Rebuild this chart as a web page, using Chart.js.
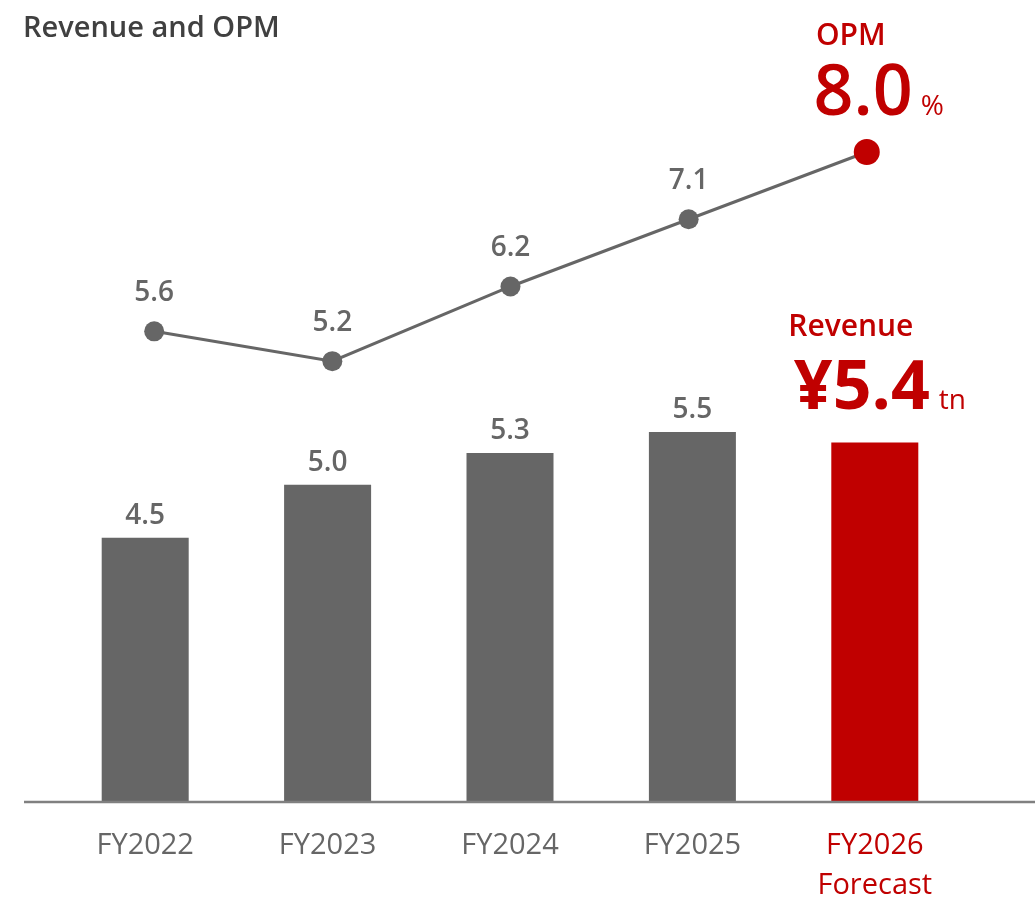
<!DOCTYPE html>
<html>
<head>
<meta charset="utf-8">
<title>Revenue and OPM</title>
<script src="https://cdn.jsdelivr.net/npm/chart.js@4"></script>
<style>
  html, body { margin: 0; padding: 0; background: #fff; }
  #wrap { position: relative; width: 1035px; height: 899px; }
  h1 { position: absolute; left: 23px; top: 6px; margin: 0; font: 600 29px "Open Sans", sans-serif; color: #404040; }
  canvas { position: absolute; left: 0; top: 0; }
</style>
</head>
<body>
<div id="wrap">
  <canvas id="chart" width="1035" height="899"></canvas>
  <h1>Revenue and OPM</h1>
</div>
<script>
// data
const categories = ['FY2022', 'FY2023', 'FY2024', 'FY2025', 'FY2026'];
const revenue = [4.5, 5.0, 5.3, 5.5, 5.4];   // ¥ tn
const opm = [5.6, 5.2, 6.2, 7.1, 8.0];       // %
const tickLabels = [['FY2022'], ['FY2023'], ['FY2024'], ['FY2025'], ['FY2026', 'Forecast']];

const GRAY = '#666666';
const RED = '#C00000';
const FONT = '"Open Sans", sans-serif';
const last = categories.length - 1;

const barColors = categories.map((c, i) => i === last ? RED : GRAY);
const pointColors = categories.map((c, i) => i === last ? RED : GRAY);
const pointSizes = categories.map((c, i) => i === last ? 13 : 10);

// labels, baseline and x ticks
const decorate = {
  id: 'decorate',
  afterDatasetsDraw(chart) {
    const ctx = chart.ctx;
    const bars = chart.getDatasetMeta(1).data;
    const pts = chart.getDatasetMeta(0).data;
    const y = chart.scales.y;

    ctx.save();
    // baseline
    const base = y.getPixelForValue(y.min);
    ctx.strokeStyle = '#808080';
    ctx.lineWidth = 2.5;
    ctx.beginPath();
    ctx.moveTo(24, base);
    ctx.lineTo(1035, base);
    ctx.stroke();

    // value labels
    ctx.fillStyle = GRAY;
    ctx.font = '600 28px ' + FONT;
    ctx.textAlign = 'center';
    ctx.textBaseline = 'middle';
    for (let i = 0; i < last; i++) {
      ctx.fillText(revenue[i].toFixed(1), bars[i].x, bars[i].y - 22);
      ctx.fillText(opm[i].toFixed(1), pts[i].x, pts[i].y - 38);
    }

    // forecast callouts
    const b = bars[last], p = pts[last];
    ctx.fillStyle = RED;
    ctx.textBaseline = 'alphabetic';
    ctx.font = '600 30px ' + FONT;
    ctx.textAlign = 'center';
    ctx.fillText('OPM', p.x - 16, p.y - 107);
    ctx.fillText('Revenue', b.x - 24, b.y - 107);

    ctx.textAlign = 'right';
    ctx.font = '600 70px ' + FONT;
    ctx.fillText(opm[last].toFixed(1), p.x + 46, p.y - 37);
    ctx.font = 'bold 68px ' + FONT;
    ctx.fillText('¥' + revenue[last].toFixed(1), b.x + 55, b.y - 34);

    ctx.textAlign = 'left';
    ctx.font = '28px ' + FONT;
    ctx.fillText('%', p.x + 54, p.y - 37);
    ctx.fillText('tn', b.x + 64, b.y - 34);

    // x tick labels
    ctx.textAlign = 'center';
    ctx.textBaseline = 'middle';
    ctx.font = '29px ' + FONT;
    const x = chart.scales.x;
    tickLabels.forEach((lines, i) => {
      ctx.fillStyle = i === last ? RED : GRAY;
      lines.forEach((t, k) => ctx.fillText(t, x.getPixelForValue(i), base + 44 + k * 40));
    });
    ctx.restore();
  }
};

new Chart(document.getElementById('chart').getContext('2d'), {
  data: {
    labels: categories,
    datasets: [
      {
        type: 'line',
        label: 'OPM (%)',
        data: opm.map((v, i) => ({ x: i, y: v })),
        xAxisID: 'xLine',
        yAxisID: 'yLine',
        borderColor: GRAY,
        borderWidth: 3,
        pointBackgroundColor: pointColors,
        pointBorderColor: pointColors,
        pointRadius: pointSizes,
        pointBorderWidth: 0,
        tension: 0,
        order: 0
      },
      {
        type: 'bar',
        label: 'Revenue (¥ tn)',
        data: revenue,
        xAxisID: 'x',
        yAxisID: 'y',
        backgroundColor: barColors,
        grouped: false,
        categoryPercentage: 1,
        barPercentage: 0.477,
        order: 1
      }
    ]
  },
  options: {
    responsive: false,
    animation: false,
    layout: { padding: { left: 54, right: 69, top: 100, bottom: 97 } },
    plugins: { legend: { display: false }, tooltip: { enabled: false } },
    scales: {
      x: { type: 'category', display: false, offset: true },
      xLine: { type: 'linear', display: false, min: -0.5624, max: 4.557 },
      y: { display: false, min: 2.0, max: 8.64 },
      yLine: { display: false, min: -0.70, max: 8.696 }
    }
  },
  plugins: [decorate]
});
</script>
</body>
</html>
